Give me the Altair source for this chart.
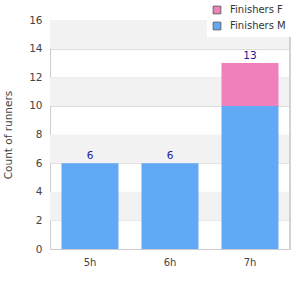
import altair as alt
import pandas as pd

hours = ["5h", "6h", "7h"]
finishers_m = [6, 6, 10]
finishers_f = [0, 0, 3]
totals = [6, 6, 13]
band_lo = [14, 10, 6, 2]
band_hi = [16, 12, 8, 4]
y_ticks = [0, 2, 4, 6, 8, 10, 12, 14, 16]

rows = []
for h, m, f in zip(hours, finishers_m, finishers_f):
    rows.append({"hour": h, "series": "Finishers M", "count": m, "ord": 0})
    rows.append({"hour": h, "series": "Finishers F", "count": f, "ord": 1})
df = pd.DataFrame(rows)
tot = pd.DataFrame({"hour": hours, "total": totals})
bands = pd.DataFrame({"lo": band_lo, "hi": band_hi})

FONT = "DejaVu Sans"
yscale = alt.Scale(domain=[0, 16])
yaxis = alt.Axis(values=y_ticks, gridColor="#dddddd",
                 labelOverlap=False,
                 ticks=False, labelPadding=8, domainColor="#ccc",
                 labelFont=FONT, labelFontSize=10.5, labelColor="#444",
                 titleFont=FONT, titleFontSize=10.5, titleColor="#444",
                 titleFontWeight="normal", titlePadding=15)
xaxis = alt.Axis(labelAngle=0, ticks=False, labelPadding=8,
                 labelFont=FONT, labelFontSize=10, labelColor="#444",
                 domainColor="#ccc")
xscale = alt.Scale(paddingInner=0.29, paddingOuter=0.145)

band_layer = alt.Chart(bands).mark_rect(color="#f2f2f2").encode(
    y=alt.Y("lo:Q", scale=yscale, title="Count of runners", axis=yaxis),
    y2="hi:Q",
)

bars = alt.Chart(df).mark_bar(size=57).encode(
    x=alt.X("hour:N", sort=hours, title=None, scale=xscale, axis=xaxis),
    y=alt.Y("count:Q", stack="zero", scale=yscale, title="Count of runners", axis=yaxis),
    color=alt.Color("series:N",
                    scale=alt.Scale(domain=["Finishers F", "Finishers M"],
                                    range=["#f080bb", "#62a9f5"]),
                    legend=alt.Legend(title=None, orient="none", legendX=157, legendY=-20,
                                      symbolType="square", symbolSize=60,
                                      symbolStrokeColor="#666", symbolStrokeWidth=1,
                                      labelFont=FONT, labelFontSize=10, labelColor="#333",
                                      labelOffset=8,
                                      fillColor="white", padding=5, rowPadding=4)),
    order=alt.Order("ord:Q"),
)

labels = alt.Chart(tot).mark_text(dy=-7, font=FONT, fontSize=10.5, color="#1a1a9c").encode(
    x=alt.X("hour:N", sort=hours, title=None, scale=xscale, axis=xaxis),
    y=alt.Y("total:Q", scale=yscale, title="Count of runners", axis=yaxis),
    text="total:Q",
)

right = alt.Chart(tot).mark_rule(color="#ccc").encode(
    x=alt.value(240), y=alt.value(0), y2=alt.value(229)
)

chart = alt.layer(band_layer, bars, labels, right).properties(
    width=240, height=229,
    autosize=alt.AutoSizeParams(type="none"),
    padding={"left": 50, "top": 20, "right": 10, "bottom": 51},
).configure_view(stroke=None).configure_axis(gridWidth=1)

chart.save("out.html", embed_options={"renderer": "svg", "actions": False})
